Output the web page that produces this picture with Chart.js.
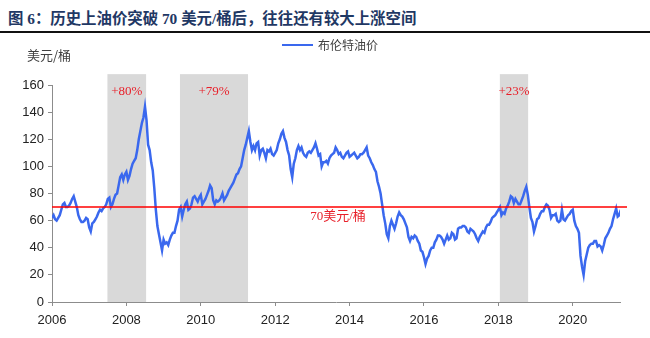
<!DOCTYPE html>
<html>
<head>
<meta charset="utf-8">
<script src="https://cdn.jsdelivr.net/npm/chart.js@4.4.1/dist/chart.umd.min.js"></script>
<style>
  body { margin: 0; background: #fff; }
  #wrap { position: relative; width: 650px; height: 338px; overflow: hidden; }
  #title {
    position: absolute; left: 8px; top: 6px;
    font: bold 15.4px "Liberation Serif", "Noto Sans CJK SC", serif;
    color: #1f3864; white-space: nowrap;
  }
  #rule { position: absolute; left: 0; top: 31px; width: 650px; height: 2px; background: #111; }
  #box { position: absolute; left: 0; top: 34px; width: 650px; height: 304px; }
</style>
</head>
<body>
<div id="wrap">
  <div id="title">图 6：历史上油价突破 70 美元/桶后，往往还有较大上涨空间</div>
  <div id="rule"></div>
  <div id="box"><canvas id="grafica"></canvas></div>
</div>
<script>
// Brent, two readings per month from Jan 2006
const startYear = 2006;
const perYear = 24;
const brent2006 = [62, 64, 61, 60, 62, 64, 68, 72, 73, 70, 70, 71, 73, 76, 78, 74, 70, 64, 61, 59, 59, 60, 62, 61];
const brent2007 = [55, 52, 58, 59, 61, 63, 66, 68, 67, 69, 70, 72, 76, 77, 70, 72, 76, 79, 80, 86, 92, 94, 90, 94];
const brent2008 = [96, 90, 93, 98, 102, 104, 106, 112, 120, 126, 132, 136, 144, 134, 116, 112, 103, 97, 84, 68, 56, 50, 44, 38];
const brent2009 = [46, 43, 44, 42, 46, 49, 51, 51, 56, 60, 68, 70, 63, 68, 72, 74, 68, 69, 72, 77, 78, 76, 74, 77];
const brent2010 = [79, 72, 74, 76, 79, 82, 86, 84, 75, 72, 75, 74, 75, 77, 80, 75, 77, 79, 82, 84, 86, 88, 91, 94];
const brent2011 = [95, 98, 100, 106, 112, 116, 121, 126, 118, 112, 115, 112, 117, 118, 108, 112, 113, 110, 106, 112, 111, 113, 109, 108];
const brent2012 = [110, 112, 117, 120, 124, 126, 121, 118, 112, 108, 98, 92, 102, 106, 112, 115, 112, 114, 110, 108, 107, 110, 111, 110];
const brent2013 = [112, 114, 117, 113, 108, 109, 100, 103, 103, 104, 102, 106, 108, 109, 110, 114, 112, 109, 110, 107, 106, 108, 110, 111];
const brent2014 = [107, 108, 109, 110, 108, 106, 107, 109, 109, 110, 112, 114, 108, 106, 103, 101, 98, 96, 89, 85, 80, 72, 64, 58];
const brent2015 = [50, 47, 56, 60, 57, 54, 58, 63, 66, 64, 63, 61, 58, 55, 48, 45, 48, 47, 49, 48, 45, 43, 38, 37];
const brent2016 = [33, 28, 32, 34, 38, 40, 40, 44, 46, 49, 49, 48, 46, 43, 46, 49, 46, 47, 51, 50, 46, 47, 54, 55];
const brent2017 = [55, 56, 56, 55, 52, 51, 54, 53, 52, 50, 47, 45, 48, 50, 52, 51, 55, 57, 57, 59, 62, 63, 64, 66];
const brent2018 = [68, 70, 64, 66, 65, 69, 71, 74, 78, 77, 73, 76, 74, 72, 72, 75, 78, 82, 85, 79, 70, 62, 59, 52];
const brent2019 = [56, 61, 62, 65, 67, 67, 70, 72, 71, 68, 62, 64, 64, 65, 60, 59, 60, 68, 61, 60, 62, 64, 65, 67];
const brent2020 = [68, 60, 56, 54, 51, 34, 26, 20, 30, 35, 40, 42, 43, 43, 45, 45, 41, 42, 41, 38, 42, 47, 49, 51];
const brent2021 = [54, 56, 61, 65, 69, 63, 64, 68];

const brent = [].concat(brent2006, brent2007, brent2008, brent2009, brent2010, brent2011,
  brent2012, brent2013, brent2014, brent2015, brent2016, brent2017, brent2018, brent2019,
  brent2020, brent2021);

// rally windows after crossing 70 USD/bbl
const rallyStart = [2007.49, 2009.44, 2018.04];
const rallyEnd = [2008.53, 2011.27, 2018.80];
const rallyGain = ['+80%', '+79%', '+23%'];

const threshold = 70;
const thresholdLabel = '70美元/桶';
const yTicks = [0, 20, 40, 60, 80, 100, 120, 140, 160];
const xTicks = [2006, 2008, 2010, 2012, 2014, 2016, 2018, 2020];

const puntos = brent.map((v, i) => ({ x: startYear + i / perYear, y: v }));

const decoraciones = {
  id: 'decoraciones',
  beforeDatasetsDraw(chart) {
    const { ctx, chartArea, scales: { x, y } } = chart;
    ctx.save();
    ctx.fillStyle = '#d9d9d9';
    const top = y.getPixelForValue(168);
    rallyStart.forEach((s, i) => {
      const x0 = x.getPixelForValue(s);
      const x1 = x.getPixelForValue(rallyEnd[i]);
      ctx.fillRect(x0, top, x1 - x0, chartArea.bottom - top);
    });
    ctx.restore();
  },
  afterDatasetsDraw(chart) {
    const { ctx, chartArea, scales: { x, y } } = chart;
    const ds = chart.data.datasets[0];
    ctx.save();
    // 70 line
    const yy = y.getPixelForValue(threshold);
    ctx.strokeStyle = '#ff0000';
    ctx.lineWidth = 1.5;
    ctx.beginPath();
    ctx.moveTo(chartArea.left, yy);
    ctx.lineTo(chartArea.right + 7, yy);
    ctx.stroke();

    ctx.fillStyle = '#e8202a';
    ctx.font = '13px "Liberation Serif", "Noto Sans CJK SC", serif';
    ctx.textBaseline = 'middle';
    ctx.textAlign = 'left';
    ctx.fillText(thresholdLabel, x.getPixelForValue(2012.94), y.getPixelForValue(62.7));

    ctx.textAlign = 'center';
    rallyStart.forEach((s, i) => {
      const cx = (x.getPixelForValue(s) + x.getPixelForValue(rallyEnd[i])) / 2;
      ctx.fillText(rallyGain[i], cx, y.getPixelForValue(155.5));
    });

    // unit
    ctx.fillStyle = '#404040';
    ctx.font = '13px "Noto Sans CJK SC", sans-serif';
    ctx.textAlign = 'left';
    ctx.fillText('美元/桶', 27, 21);

    // legend
    ctx.strokeStyle = ds.borderColor;
    ctx.lineWidth = 2;
    ctx.beginPath();
    ctx.moveTo(282, 11);
    ctx.lineTo(313, 11);
    ctx.stroke();
    ctx.font = '12px "Noto Sans CJK SC", sans-serif';
    ctx.fillText(ds.label, 318, 11);
    ctx.restore();
  }
};

new Chart(document.getElementById('grafica'), {
  type: 'line',
  data: {
    datasets: [{
      label: '布伦特油价',
      data: puntos,
      borderColor: '#3a68ee',
      backgroundColor: '#3a68ee',
      borderWidth: 2.5,
      pointRadius: 0,
      tension: 0
    }]
  },
  options: {
    responsive: true,
    maintainAspectRatio: false,
    animation: false,
    layout: { padding: { top: 51, right: 30, bottom: 0, left: 0 } },
    plugins: {
      legend: { display: false },
      tooltip: { enabled: false }
    },
    scales: {
      x: {
        type: 'linear',
        min: 2006,
        max: 2021.27,
        afterBuildTicks: s => { s.ticks = xTicks.map(v => ({ value: v })); },
        ticks: {
          callback: v => String(v),
          color: '#222', padding: 7, maxRotation: 0,
          font: { size: 13, family: '"Liberation Sans", Arial, sans-serif' }
        },
        grid: { display: true, drawOnChartArea: false, tickLength: 4, color: '#8c8c8c' },
        border: { color: '#8c8c8c' },
        afterFit: s => { s.height = 36; }
      },
      y: {
        min: 0,
        max: 160,
        afterBuildTicks: s => { s.ticks = yTicks.map(v => ({ value: v })); },
        ticks: {
          color: '#222', padding: 4,
          font: { size: 13, family: '"Liberation Sans", Arial, sans-serif' }
        },
        grid: { display: true, drawOnChartArea: false, tickLength: 4, color: '#8c8c8c' },
        border: { color: '#8c8c8c' },
        afterFit: s => { s.width = 52; }
      }
    }
  },
  plugins: [decoraciones]
});
</script>
</body>
</html>
